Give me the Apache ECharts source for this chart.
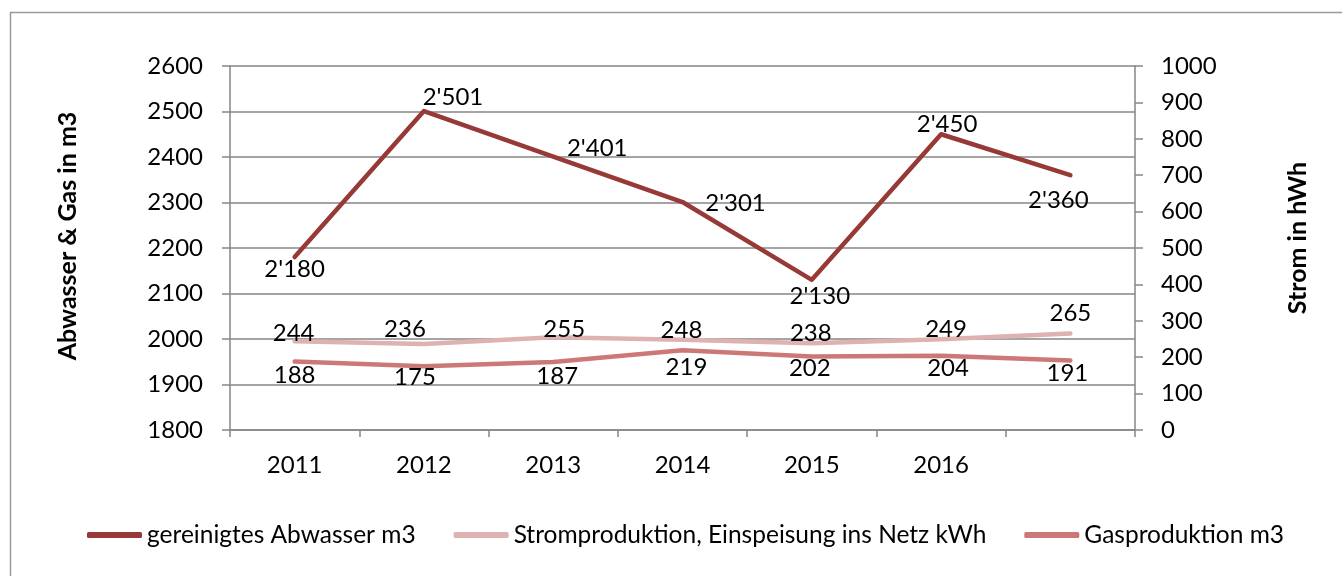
<!DOCTYPE html>
<html>
<head>
<meta charset="utf-8">
<script src="https://cdn.jsdelivr.net/npm/echarts@6/dist/echarts.min.js"></script>
<style>
html, body { margin: 0; padding: 0; background: #fff; }
#chart { width: 1342px; height: 576px; }
</style>
</head>
<body>
<div id="chart"></div>
<script>
var years = ['2011', '2012', '2013', '2014', '2015', '2016', ''];
var abwasser = [2180, 2501, 2401, 2301, 2130, 2450, 2360];
var strom = [244, 236, 255, 248, 238, 249, 265];
var gas = [188, 175, 187, 219, 202, 204, 191];

// label shifts from the point centre, like the Excel layout
var abwasserShift = [[0, 12], [29, -14], [44, -8], [53, 1], [8, 16], [6, -10], [-12, 25]];
var stromShift = [[-1, -8], [-19, -15], [11, -8], [-1, -9], [-1, -10], [5, -10], [0, -20]];
var gasShift = [[0, 14], [-9, 11], [4, 14], [4, 17], [-2, 12], [7, 13], [-3, 13]];

var font = 'Lato';
var fontSize = 24;

function withLabels(values, shifts) {
	return values.map(function(v, i) {
		return { value: v, label: { offset: shifts[i] } };
	});
}

function thousands(p) {
	return String(p.value).replace(/\B(?=(\d{3})+(?!\d))/g, "'");
}

var chart = echarts.init(document.getElementById('chart'));

var labelStyle = {
	show: true,
	position: 'inside',
	color: '#000',
	fontFamily: font,
	fontSize: fontSize,
	formatter: thousands
};

var option = {
	animation: false,
	backgroundColor: '#fff',
	textStyle: { fontFamily: font },
	graphic: [{
		type: 'rect',
		shape: { x: 10.5, y: 12.5, width: 1400, height: 600 },
		style: { fill: 'none', stroke: '#9a9a9a', lineWidth: 1.5 },
		silent: true
	}],
	grid: { left: 230, right: 207, top: 66, bottom: 146 },
	legend: {
		left: 87,
		top: 522,
		padding: 0,
		icon: 'roundRect',
		itemWidth: 55,
		itemHeight: 6,
		itemGap: 38,
		textStyle: { color: '#000', fontFamily: font, fontSize: 24.5, lineHeight: 26 },
		data: ['gereinigtes Abwasser m3', 'Stromproduktion, Einspeisung ins Netz kWh', 'Gasproduktion m3']
	},
	xAxis: {
		type: 'category',
		data: years,
		boundaryGap: true,
		axisLine: { lineStyle: { color: '#868686', width: 1.5 } },
		axisTick: { show: true, length: 7, lineStyle: { color: '#868686', width: 1.5 } },
		axisLabel: { interval: 0, margin: 23, color: '#000', fontFamily: font, fontSize: fontSize },
		splitLine: { show: false }
	},
	yAxis: [{
		type: 'value',
		min: 1800,
		max: 2600,
		interval: 100,
		name: 'Abwasser & Gas in m3',
		nameLocation: 'middle',
		nameGap: 150,
		nameTextStyle: { color: '#000', fontFamily: font, fontSize: 25, fontWeight: 'bold', padding: [0, 0, 0, 24] },
		axisLine: { show: true, lineStyle: { color: '#868686', width: 1.5 } },
		axisTick: { show: true, length: 8, lineStyle: { color: '#868686', width: 1.5 } },
		axisLabel: { margin: 27, color: '#000', fontFamily: font, fontSize: fontSize, formatter: function(v) { return String(v); } },
		splitLine: { show: true, lineStyle: { color: '#868686', width: 1.5 } }
	}, {
		type: 'value',
		min: 0,
		max: 1000,
		interval: 100,
		position: 'right',
		name: 'Strom in hWh',
		nameLocation: 'middle',
		nameGap: 150,
		nameTextStyle: { color: '#000', fontFamily: font, fontSize: 25, fontWeight: 'bold', padding: [0, 0, 0, 20] },
		axisLine: { show: true, lineStyle: { color: '#868686', width: 1.5 } },
		axisTick: { show: true, length: 8, lineStyle: { color: '#868686', width: 1.5 } },
		axisLabel: { margin: 26, color: '#000', fontFamily: font, fontSize: fontSize, formatter: function(v) { return String(v); } },
		splitLine: { show: false }
	}],
	series: [{
		name: 'gereinigtes Abwasser m3',
		type: 'line',
		yAxisIndex: 0,
		data: withLabels(abwasser, abwasserShift),
		symbol: 'circle',
		symbolSize: 1,
		showSymbol: true,
		itemStyle: { color: '#973a37' },
		lineStyle: { color: '#973a37', width: 4.5, cap: 'round', join: 'round' },
		label: labelStyle,
		z: 3
	}, {
		name: 'Stromproduktion, Einspeisung ins Netz kWh',
		type: 'line',
		yAxisIndex: 1,
		data: withLabels(strom, stromShift),
		symbol: 'circle',
		symbolSize: 1,
		showSymbol: true,
		itemStyle: { color: '#ddb2b1' },
		lineStyle: { color: '#ddb2b1', width: 4.5, cap: 'round', join: 'round' },
		label: labelStyle,
		z: 2
	}, {
		name: 'Gasproduktion m3',
		type: 'line',
		yAxisIndex: 1,
		data: withLabels(gas, gasShift),
		symbol: 'circle',
		symbolSize: 1,
		showSymbol: true,
		itemStyle: { color: '#cc7876' },
		lineStyle: { color: '#cc7876', width: 4.5, cap: 'round', join: 'round' },
		label: labelStyle,
		z: 2
	}]
};

chart.setOption(option);
</script>
</body>
</html>
